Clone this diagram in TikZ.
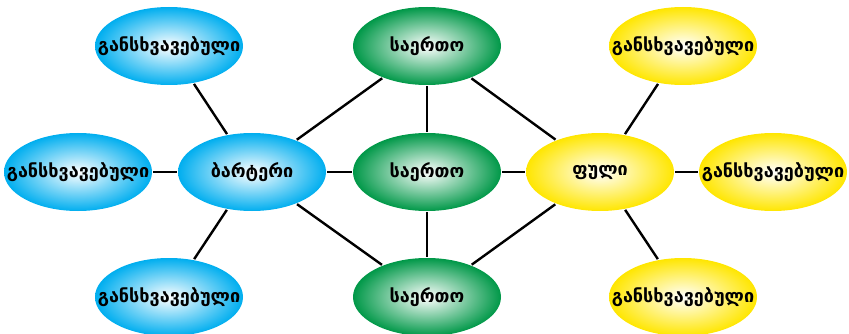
\documentclass[tikz,border=0pt]{standalone}
\usepackage{fontspec}
\newfontfamily\geofont{DejaVu Sans}
\usetikzlibrary{shapes.geometric}

\definecolor{diffblue}{RGB}{0,174,239}
\definecolor{commongreen}{RGB}{0,152,72}
\definecolor{moneyyellow}{RGB}{255,230,0}

\begin{document}
\begin{tikzpicture}[x=1pt, y=-1pt, line width=2.4pt,
	bubble/.style={ellipse, minimum width=148pt, minimum height=78pt,
		inner xsep=-30pt, inner ysep=0pt,
		font=\geofont\bfseries\fontsize{18}{22}\selectfont},
	blue bubble/.style={bubble, inner color=white, outer color=diffblue},
	green bubble/.style={bubble, inner color=white, outer color=commongreen},
	yellow bubble/.style={bubble, inner color=white, outer color=moneyyellow}]

\useasboundingbox (0,0) rectangle (849,334);

% barter side
\node[blue bubble] (diffA) at (169,46) {განსხვავებული};
\node[blue bubble] (diffB) at (78,172) {განსხვავებული};
\node[blue bubble] (diffC) at (169,297) {განსხვავებული};
\node[blue bubble] (barter) at (252,172) {ბარტერი};

% common features
\node[green bubble] (commonA) at (427,46) {საერთო};
\node[green bubble] (commonB) at (427,172) {საერთო};
\node[green bubble] (commonC) at (427,297) {საერთო};

% money side
\node[yellow bubble] (money) at (600,172) {ფული};
\node[yellow bubble] (diffD) at (683,46) {განსხვავებული};
\node[yellow bubble] (diffE) at (773,172) {განსხვავებული};
\node[yellow bubble] (diffF) at (683,297) {განსხვავებული};

\foreach \from/\to in {diffA/barter, diffB/barter, diffC/barter,
	barter/commonA, barter/commonB, barter/commonC,
	commonA/commonB, commonB/commonC,
	commonA/money, commonB/money, commonC/money,
	money/diffD, money/diffE, money/diffF}{
	\draw (\from) -- (\to);
}

\end{tikzpicture}
\end{document}
